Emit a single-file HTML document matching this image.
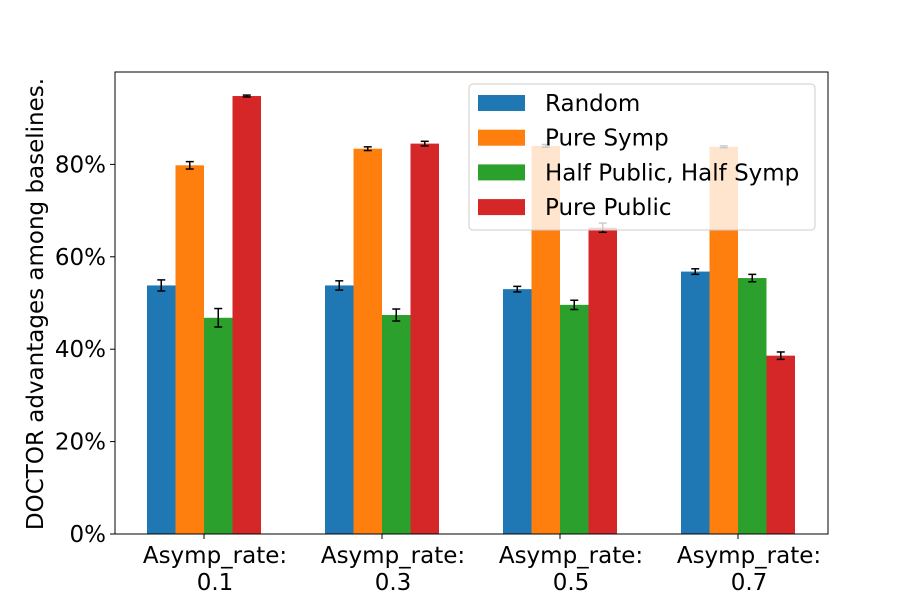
<!DOCTYPE html>
<html><head><meta charset="utf-8"><style>body{margin:0;background:#fff}svg{font-family:"DejaVu Sans","Liberation Sans",sans-serif}</style></head>
<body>
<svg id="chart" width="919" height="600" xmlns="http://www.w3.org/2000/svg"></svg>
<script>
const categories = ["0.1","0.3","0.5","0.7"];
const seriesNames = ["Random","Pure Symp","Half Public, Half Symp","Pure Public"];
const colors = ["#1f77b4","#ff7f0e","#2ca02c","#d62728"];
const randomVals = [53.8,53.8,53.0,56.8];
const pureSympVals = [79.8,83.4,84.0,83.8];
const halfVals = [46.8,47.4,49.6,55.4];
const purePublicVals = [94.8,84.5,66.3,38.6];
const randomErr = [1.2,1.0,0.6,0.6];
const pureSympErr = [0.8,0.4,0.3,0.2];
const halfErr = [2.0,1.3,1.0,0.8];
const purePublicErr = [0.2,0.5,1.0,0.8];
const yTicks = [0,20,40,60,80];
const values = [randomVals,pureSympVals,halfVals,purePublicVals];
const errs = [randomErr,pureSympErr,halfErr,purePublicErr];

const NS="http://www.w3.org/2000/svg", svg=document.getElementById('chart');
const L=115,R=828,T=72,B=534,FS=23;
const y=v=>B-(v/100)*(B-T);
const groupC=i=>204+i*178;
const bw=28.5;
function mk(t,a,p){const e=document.createElementNS(NS,t);for(const k in a)e.setAttribute(k,a[k]);(p||svg).appendChild(e);return e;}
categories.forEach((c,i)=>{
  values.forEach((s,j)=>{
    const x=groupC(i)+(j-2)*bw;
    const r=mk('rect',{x:x,y:y(s[i]),width:bw,height:B-y(s[i]),fill:colors[j]});
    
    
    const cx=x+bw/2,e=errs[j][i];
    const g=mk('g',{stroke:'#000','stroke-width':1.5});
    
    
    mk('line',{x1:cx,x2:cx,y1:y(s[i]+e),y2:y(s[i]-e)},g);
    mk('line',{x1:cx-4,x2:cx+4,y1:y(s[i]+e),y2:y(s[i]+e)},g);
    mk('line',{x1:cx-4,x2:cx+4,y1:y(s[i]-e),y2:y(s[i]-e)},g);
  });
  const tx=groupC(i)+11;
  mk('line',{x1:groupC(i),x2:groupC(i),y1:B,y2:B+5,stroke:'#000'});
  const t=mk('text',{x:tx,y:563,'font-size':FS,'text-anchor':'middle'});
  
  
  t.textContent='Asymp_rate:';
  const t2=mk('text',{x:tx,y:590,'font-size':FS,'text-anchor':'middle'});
  
  
  t2.textContent=c;
});
yTicks.forEach(v=>{
  mk('line',{x1:L-5,x2:L,y1:y(v),y2:y(v),stroke:'#000'});
  const t=mk('text',{x:L-9,y:y(v)+8,'font-size':FS,'text-anchor':'end'});
  
  
  t.textContent=v+'%';
});
const ax=mk('rect',{x:L,y:T,width:R-L,height:B-T,fill:'none',stroke:'#000','stroke-width':1});


const yt=mk('text',{x:0,y:0,'font-size':FS,'text-anchor':'middle',transform:'translate(43,304) rotate(-90)'});


yt.textContent='DOCTOR advantages among baselines.';
const lg=mk('g',{});


mk('rect',{x:469,y:84,width:346,height:146,rx:4,fill:'#fff','fill-opacity':0.8,stroke:'#ccc'},lg);
seriesNames.forEach((n,j)=>{
  const yy=103+j*34.7;
  const p=mk('rect',{x:478,y:yy-8,width:47,height:16,fill:colors[j]},lg);
  
  
  const t=mk('text',{x:545,y:yy+8,'font-size':FS},lg);
  
  
  t.textContent=n;
});
</script>
</body></html>
